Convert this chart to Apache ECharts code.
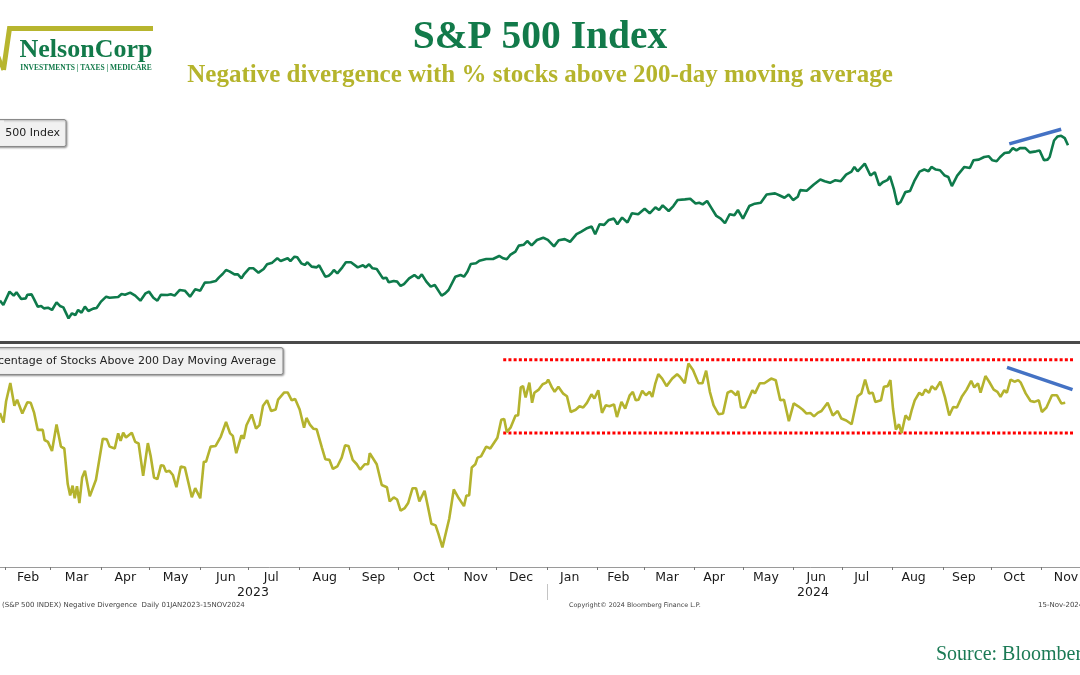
<!DOCTYPE html>
<html><head><meta charset="utf-8">
<script src="https://cdn.jsdelivr.net/npm/echarts@6/dist/echarts.min.js"></script>
<style>html,body{margin:0;padding:0;background:#fff}#c{width:1080px;height:675px}</style>
</head><body><div id="c"></div>
<script>
// x values: calendar day counted from 1 Jan 2023 (day 0)
const spxDay = [
27.7,29.8,33.6,36.2,37.9,40.8,43.6,44.6,47.2,48.8,
51,53.1,54.8,57.3,59.8,62.6,64.7,66.8,70,72.1,
74.2,75.9,78,80.1,82.2,85.2,87.3,90,93.2,95.3,
100.6,102.7,104.8,108,111.1,114.3,117.5,119.6,122.3,124.8,
127,131,133,135.4,138.6,141.7,144.9,148.1,151.2,154,
157.6,160.7,162.8,165,167.1,169.2,172.3,174.4,176.6,178,
181.4,183.9,187.1,190.3,192.4,195.6,198.7,200.8,205.1,206.8,
209.3,211,213.5,215.6,217.3,219.9,223,224.5,228.3,230.4,
232.1,233.6,235.7,238.8,241,244.1,248.3,251.5,253.2,255.3,
257.4,260,263.8,265.9,267.4,270.5,272.6,274.7,276.8,280,
283.2,285.7,287.8,290.6,293.3,295.8,300,302.2,304.3,308.5,
311.7,313.8,315.9,318,321.2,323.3,327.5,331.7,335.5,338,
340.2,342.3,345.5,347.6,350.7,352.8,355.5,358.8,362.7,365.5,
369.3,372.2,375.9,379.2,383.2,385.9,389.2,392.5,394.7,397.4,
400.2,403.1,406.2,408.4,411.3,414.6,417.3,421.2,425.2,428.3,
431.8,434.1,436.3,440,442.9,445.5,450,453.3,456.6,458.8,
461,463.7,466.5,469.4,472.1,474.7,477.6,480.5,482.7,485.8,
489.7,493.1,496.8,500.4,505.6,508.5,511.4,514,516.7,519.6,
521.1,525.1,529.5,533.5,536.2,539.5,542.8,546.1,549.4,552.7,
554.5,556.5,560.9,564.4,567.1,569.8,572,574.8,576.4,578.8,
581,583,585.9,588.8,591.4,594.7,597.6,600.2,602,604.7,
607.3,610.2,612.4,614.6,617.9,622.3,625.7,627.9,631.2,634.5,
637.4,639.6,642.2,644.4,647.1,650,652.2,654.4,656.6,659.9,
662.6,666.5,668.7,671.4,673.6,674.9,677.6,679.8,682,684.2,
686.2];
const spxClose = [
4062,4012,4168,4121,4160,4082,4089,4132,4136,4078,
3992,4000,3972,3980,3953,4043,4000,3984,3855,3914,
3894,3953,3922,3992,3941,3969,3976,4051,4109,4097,
4105,4140,4132,4156,4121,4062,4148,4168,4097,4062,
4132,4128,4136,4121,4187,4179,4109,4195,4179,4273,
4277,4292,4335,4374,4421,4405,4370,4370,4323,4366,
4441,4441,4390,4433,4487,4507,4558,4526,4558,4526,
4577,4569,4499,4480,4511,4460,4452,4476,4343,4355,
4382,4421,4382,4452,4511,4511,4452,4476,4452,4487,
4441,4433,4323,4331,4277,4292,4285,4234,4257,4323,
4362,4323,4370,4285,4226,4245,4121,4148,4187,4343,
4362,4343,4401,4491,4499,4530,4550,4550,4585,4558,
4546,4597,4636,4706,4717,4760,4708,4772,4798,4774,
4697,4770,4782,4751,4840,4867,4906,4929,4840,4956,
4949,5007,5022,4956,5034,4976,5084,5073,5138,5084,
5154,5123,5177,5111,5169,5239,5247,5255,5200,5208,
5189,5228,5142,5053,5022,4968,5073,5061,5123,5022,
5169,5197,5208,5305,5317,5293,5266,5305,5239,5278,
5355,5348,5421,5479,5460,5441,5472,5460,5537,5572,
5627,5576,5665,5526,5565,5410,5448,5472,5518,5371,
5189,5216,5332,5344,5460,5572,5596,5576,5627,5596,
5588,5526,5510,5402,5526,5627,5615,5704,5712,5743,
5751,5704,5693,5743,5789,5797,5847,5820,5847,5847,
5797,5809,5820,5704,5712,5743,5936,5983,5991,5964,
5880];
const breadthDay = [
27.7,29.9,31.5,34.1,36.6,38.3,41.5,44.6,46.7,48.8,
51,54.1,55.2,57.3,59.8,62.6,65.3,67.4,69.5,71,
72.5,73.8,75.2,76.7,78.4,80.1,83.1,86.9,89,91.1,
93.6,95.3,98.5,100.6,102.1,103.7,105.4,109,111.1,113.2,
116,118.9,120.6,122.7,124.8,127,128.6,130.1,132.2,134.3,
136.5,139.2,141.7,146,148.1,151.2,153.4,154.8,157.6,160.7,
163.9,167.1,169.6,171.3,173.4,176.6,178,179.7,182.9,185.6,
187.7,189.9,192.4,194.9,197.7,199.2,203,205.1,207.6,209.7,
212.5,215.2,216.7,218.8,220.9,223,226.2,228.3,230.8,233,
235.7,238.4,240.5,242.6,245.2,247.7,249.8,252.6,254.7,255.7,
260,263.1,266.3,268,270.5,272.6,274.7,277.3,279.4,282.1,
284.2,286.3,289.5,291.6,293.7,296.3,298,300.5,304.7,307.5,
310.6,313.8,315.3,317,318.6,320.8,322.2,324.3,327.5,330,
334.4,336.8,338.6,340.2,342.5,345.6,347.2,348.8,350.2,351.8,
354.1,355.8,357.2,359.9,362.3,364.6,365.7,368,369.7,372,
375,377.3,379.6,382.7,385,387.3,389.6,392.4,394.2,396.6,
398.9,401.2,403.5,406.3,408.1,410.9,413.2,416,417.9,419.7,
421.4,423.7,426,428.3,429.9,431.8,433.6,436,438.7,442.2,
445.2,446.9,449.9,452.2,455,458.4,460.8,463.1,465.4,467.7,
470.7,473.5,476.3,478.6,481.6,482.8,484.6,487,491.6,493.2,
496.2,499,503.2,506,508.8,511.1,514.1,517.1,519.9,522.7,
525,527.3,529.6,531.9,534.2,538,541.2,544.2,546.5,549.5,
552.8,556.5,558.8,561.1,563.5,565.8,567.4,570.9,572.7,575,
576.7,578.3,580.1,582,583.6,586,588.3,589.9,591.7,594.5,
596.4,598.2,600.5,602.2,604.5,607.5,610.3,613,615.4,617.7,
620.7,623.7,626.5,628.4,630.7,632.3,635.3,637.6,640.4,642.7,
644.6,646.9,648.5,650.8,653.2,655.5,657.1,660.1,663.1,665.5,
668.2,670.1,672.9,676.3,679.4,682.1,684.5];
const breadthPct = [
63.9,60.8,67.6,73.4,66.2,68.1,63.7,67.3,67.1,63.9,
58.5,58.5,55.3,54.7,51.8,60.2,53.2,52.6,41.3,37.7,
40.8,36.8,40.6,35.3,43.4,45.5,37.4,42.7,49.2,55.7,
55.5,53.2,52.6,57.4,55,57.6,56.1,57.6,54.7,54.2,
43.9,54.3,50.3,43.4,42.9,47.3,47.1,45.2,45.5,44.2,
40.3,46.9,46.6,37.1,40,36.8,48.4,48.4,53.2,53.4,
56.4,61,57.4,56.6,51.1,56.8,55.7,60,63.4,58.9,
60,66.2,67.9,64.5,65,68.1,70.4,70.4,67.9,68.3,
65,59.2,62.3,60.2,58.9,58.7,52.9,49.2,49,46.1,
46.9,49.7,53.6,53.4,49,47.6,45.9,47.6,47.6,51.1,
47.6,41,40.3,35.8,37.1,36.4,32.9,33.7,35.3,40,
40,35.8,39.2,34,28.7,28.2,25.6,21.2,30.3,39.6,
36.8,34.3,37.7,37.7,46.6,47.6,49.7,50.1,53.2,52.6,
56,61.7,62,57.8,59.2,63.1,63.1,72,72.4,68.8,
73.5,67.1,70.3,71.3,73,73.5,74.5,72,70.6,72.2,
70,69.2,64.2,64.9,66,65.6,67.1,69.8,68.5,71.1,
63.9,66.3,66,66.6,62.6,67.4,65.3,69.5,70.6,67.9,
68.1,70.9,69.5,70.6,69,73.3,76.2,74.8,72.4,74.8,
76.2,75.4,73.3,79.6,77.5,73.3,73.3,77.3,70.6,66.3,
63.5,63.7,70.3,70.9,69.5,70.9,65.6,65.6,71.1,70.1,
73.3,73.3,74.8,74.3,67.9,68.1,61.3,66.9,66,64.9,
63.7,63.9,62.8,63.9,64.5,67.1,63.1,64.5,62.1,61.5,
60.3,69.2,70.1,74.5,70.1,70.3,67.4,67.9,72.2,72.4,
74.3,65.3,58.6,60.3,57.5,63.1,61.7,64.9,67.9,70.3,
69.5,71.3,70.3,72.4,71.3,73.8,69,63.1,65.8,65.6,
69,71.3,74.1,72,73.3,70.3,75.6,73.8,71.3,70.6,
69,71.1,70.3,74.5,73.8,74.3,73.5,70.1,67.7,67.4,
67.9,64.2,65.6,69.5,69.5,66.9,67.1];

// annotations (data coordinates)
const spxTrendDay = [650, 682];
const spxTrendValue = [5897, 6068];
const breadthTrendDay = [648.6, 689];
const breadthTrendValue = [78.35, 71.3];
const bandDay = [338, 690.5];
const upperBand = 80.8;
const lowerBand = 57.5;

// axis labels
const monthLabels = ['Feb','Mar','Apr','May','Jun','Jul','Aug','Sep','Oct','Nov','Dec',
                     'Jan','Feb','Mar','Apr','May','Jun','Jul','Aug','Sep','Oct','Nov'];
const monthLabelDays = [45,75,105,136,167,195,228,258,289,321,349,379,409,439,468,500,531,559,591,622,653,685];
const monthStartDays = [31,59,90,120,151,181,212,243,273,304,334,365,396,425,456,486,517,547,578,609,639,670];
const yearLabels = ['2023','2024'];
const yearLabelDays = [183.7, 529];
const yearBoundaryDays = [365];

const X_MIN = 27.74, X_MAX = 693.6;

const zip = (xs, ys) => xs.map((x, i) => [x, ys[i]]);
const pick = (labels, days) => v => { const i = days.findIndex(d => Math.abs(d - v) < 0.01); return i >= 0 ? labels[i] : ''; };

const chart = echarts.init(document.getElementById('c'), null, {renderer: 'canvas'});
const baseX = {type: 'value', min: X_MIN, max: X_MAX, splitLine: {show: false}};
const option = {
  backgroundColor: '#ffffff',
  animation: false,
  grid: [
    {left: 0, right: 0, top: 100, height: 242, outerBoundsMode: 'none', containLabel: false},
    {left: 0, right: 0, top: 345, height: 222, outerBoundsMode: 'none', containLabel: false}
  ],
  xAxis: [
    Object.assign({}, baseX, {gridIndex: 0, position: 'bottom',
      axisLine: {show: true, onZero: false, lineStyle: {color: '#4a4a4a', width: 3}},
      axisTick: {show: false}, axisLabel: {show: false}}),
    Object.assign({}, baseX, {gridIndex: 1, position: 'bottom',
      axisLine: {show: true, onZero: false, lineStyle: {color: '#9a9a9a', width: 1}},
      axisTick: {show: true, customValues: monthStartDays, length: 3, lineStyle: {color: '#777'}},
      axisLabel: {show: true, customValues: monthLabelDays, formatter: pick(monthLabels, monthLabelDays),
        color: '#1a1a1a', fontSize: 12.5, fontFamily: 'DejaVu Sans', margin: 4}}),
    Object.assign({}, baseX, {gridIndex: 1, position: 'bottom', offset: 17,
      axisLine: {show: false}, axisTick: {show: false},
      axisLabel: {show: true, customValues: yearLabelDays, formatter: pick(yearLabels, yearLabelDays),
        color: '#1a1a1a', fontSize: 12.5, fontFamily: 'DejaVu Sans', margin: 2}}),
    Object.assign({}, baseX, {gridIndex: 1, position: 'bottom', offset: 17,
      axisLine: {show: false},
      axisTick: {show: true, customValues: yearBoundaryDays, length: 16, lineStyle: {color: '#c4c4c4', width: 1}},
      axisLabel: {show: false}})
  ],
  yAxis: [
    {gridIndex: 0, type: 'value', min: 3578.5, max: 6409.9, show: false, splitLine: {show: false}},
    {gridIndex: 1, type: 'value', min: 14.98, max: 85.46, show: false, splitLine: {show: false}}
  ],
  series: [
    {name: 'S&P 500 Index', type: 'line', xAxisIndex: 0, yAxisIndex: 0, data: zip(spxDay, spxClose),
      showSymbol: false, lineStyle: {color: '#0e7a4b', width: 2.6}, z: 3},
    {name: 'SPX trend', type: 'line', xAxisIndex: 0, yAxisIndex: 0, data: zip(spxTrendDay, spxTrendValue),
      showSymbol: false, lineStyle: {color: '#4472c4', width: 3.5}, z: 4},
    {name: 'Percentage of Stocks Above 200 Day Moving Average', type: 'line', xAxisIndex: 1, yAxisIndex: 1,
      data: zip(breadthDay, breadthPct), showSymbol: false, lineStyle: {color: '#b4b32e', width: 2.6}, z: 3},
    {name: 'Upper band', type: 'line', xAxisIndex: 1, yAxisIndex: 1, data: zip(bandDay, [upperBand, upperBand]),
      showSymbol: false, lineStyle: {color: '#ff0000', width: 3, type: [3, 2.2]}, z: 2},
    {name: 'Lower band', type: 'line', xAxisIndex: 1, yAxisIndex: 1, data: zip(bandDay, [lowerBand, lowerBand]),
      showSymbol: false, lineStyle: {color: '#ff0000', width: 3, type: [3, 2.2]}, z: 2},
    {name: 'Breadth trend', type: 'line', xAxisIndex: 1, yAxisIndex: 1, data: zip(breadthTrendDay, breadthTrendValue),
      showSymbol: false, lineStyle: {color: '#4472c4', width: 3.5}, z: 4}
  ],
  graphic: {elements: [
    // logo
    {type: 'polyline', shape: {points: [[153, 28.5], [9.5, 28.5], [3.5, 70]]}, style: {stroke: '#b7b52e', lineWidth: 5, fill: null}},
    {type: 'polyline', shape: {points: [[-2, 56], [3.5, 70]]}, style: {stroke: '#b7b52e', lineWidth: 4, fill: null}},
    {type: 'text', style: {text: 'NelsonCorp', x: 86, y: 50, textAlign: 'center', textVerticalAlign: 'middle', align: 'center', verticalAlign: 'middle',
      font: 'bold 26px "Liberation Serif"', fill: '#127a4a'}},
    {type: 'text', style: {text: 'INVESTMENTS | TAXES | MEDICARE', x: 86, y: 68.5, textAlign: 'center', textVerticalAlign: 'middle', align: 'center', verticalAlign: 'middle',
      font: 'bold 7.5px "Liberation Serif"', fill: '#127a4a'}},
    // titles
    {type: 'text', style: {text: 'S&P 500 Index', x: 540, y: 38, textAlign: 'center', textVerticalAlign: 'middle', align: 'center', verticalAlign: 'middle',
      font: 'bold 39.5px "Liberation Serif"', fill: '#127a4a'}},
    {type: 'text', style: {text: 'Negative divergence with % stocks above 200-day moving average', x: 540, y: 76, textAlign: 'center', textVerticalAlign: 'middle', align: 'center', verticalAlign: 'middle',
      font: 'bold 25px "Liberation Serif"', fill: '#b5b42c'}},
    // legend boxes
    {type: 'rect', z: 10, shape: {x: -30, y: 119.5, width: 96, height: 27, r: 2},
      style: {fill: '#f1f1f1', stroke: '#8a8a8a', lineWidth: 1, shadowBlur: 2, shadowOffsetX: 1, shadowOffsetY: 1, shadowColor: 'rgba(0,0,0,0.35)'}},
    {type: 'text', z: 11, style: {text: 'S&P 500 Index', x: 60, y: 133, textAlign: 'right', textVerticalAlign: 'middle', align: 'right', verticalAlign: 'middle',
      font: '11px "DejaVu Sans"', fill: '#222'}},
    {type: 'rect', z: 12, shape: {x: -30, y: 120.5, width: 34, height: 25},
      style: {fill: '#f1f1f1', stroke: null}},
    {type: 'rect', z: 10, shape: {x: -30, y: 347.5, width: 313, height: 27, r: 2},
      style: {fill: '#f1f1f1', stroke: '#8a8a8a', lineWidth: 1, shadowBlur: 2, shadowOffsetX: 1, shadowOffsetY: 1, shadowColor: 'rgba(0,0,0,0.35)'}},
    {type: 'text', z: 11, style: {text: 'Percentage of Stocks Above 200 Day Moving Average', x: 276, y: 361, textAlign: 'right', textVerticalAlign: 'middle', align: 'right', verticalAlign: 'middle',
      font: '11px "DejaVu Sans"', fill: '#222'}},
    // footer
    {type: 'text', style: {text: '(S&P 500 INDEX) Negative Divergence  Daily 01JAN2023-15NOV2024', x: 2, y: 605, textVerticalAlign: 'middle', verticalAlign: 'middle',
      font: '7px "DejaVu Sans"', fill: '#444'}},
    {type: 'text', style: {text: 'Copyright\u00a9 2024 Bloomberg Finance L.P.', x: 569, y: 605, textVerticalAlign: 'middle', verticalAlign: 'middle',
      font: '6.4px "DejaVu Sans"', fill: '#444'}},
    {type: 'text', style: {text: '15-Nov-2024', x: 1038, y: 605, textVerticalAlign: 'middle', verticalAlign: 'middle',
      font: '7px "DejaVu Sans"', fill: '#444'}},
    {type: 'text', style: {text: 'Source: Bloomberg', x: 936, y: 655, textVerticalAlign: 'middle', verticalAlign: 'middle',
      font: '20px "Liberation Serif"', fill: '#1b7a55'}}
  ]}
};
chart.setOption(option);
</script>
</body></html>
